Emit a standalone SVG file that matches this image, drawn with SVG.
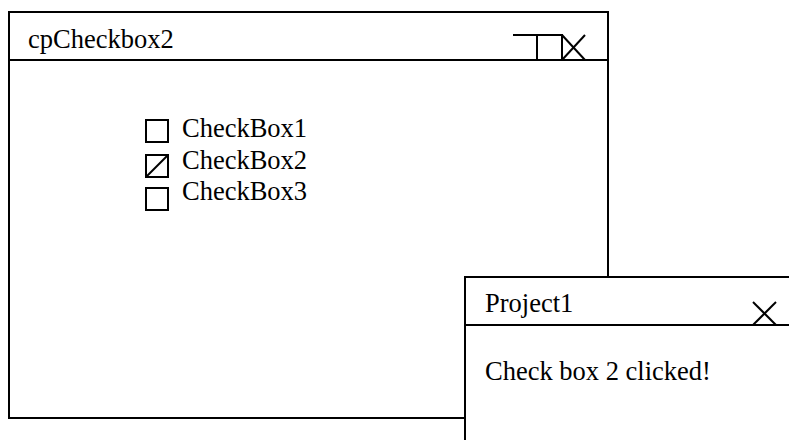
<svg xmlns="http://www.w3.org/2000/svg" width="789" height="440" viewBox="0 0 789 440">
<style>
.ln{fill:none;stroke:#000;stroke-width:2}
.win{fill:#fff;stroke:#000;stroke-width:2}
.t{font-family:"Liberation Serif","Times New Roman",serif;font-size:26.5px;fill:#000}
</style>
<rect width="789" height="440" fill="#fff"/>
<g id="main">
<rect class="win" x="9" y="12" width="599" height="406"/>
<line class="ln" x1="9" y1="60" x2="608" y2="60"/>
<text class="t" x="28" y="48">cpCheckbox2</text>
<line class="ln" x1="513" y1="35" x2="562" y2="35"/>
<rect class="ln" x="537" y="35" width="25" height="25"/>
<line class="ln" x1="562" y1="35" x2="585" y2="60"/>
<line class="ln" x1="585" y1="35" x2="562" y2="60"/>
</g>
<g id="cb1">
<rect class="ln" x="146" y="120" width="22" height="22"/>
<text class="t" x="182" y="137">CheckBox1</text>
</g>
<g id="cb2">
<rect class="ln" x="146" y="155" width="22" height="22"/>
<line class="ln" x1="146" y1="177" x2="168" y2="155"/>
<text class="t" x="182" y="169">CheckBox2</text>
</g>
<g id="cb3">
<rect class="ln" x="146" y="188" width="22" height="22"/>
<text class="t" x="182" y="200">CheckBox3</text>
</g>
<g id="msg">
<rect class="win" x="465" y="277" width="340" height="180"/>
<line class="ln" x1="465" y1="325" x2="789" y2="325"/>
<text class="t" x="485" y="312">Project1</text>
<line class="ln" x1="753" y1="302" x2="776" y2="325"/>
<line class="ln" x1="776" y1="302" x2="753" y2="325"/>
<text class="t" x="485" y="380">Check box 2 clicked!</text>
</g>
</svg>
